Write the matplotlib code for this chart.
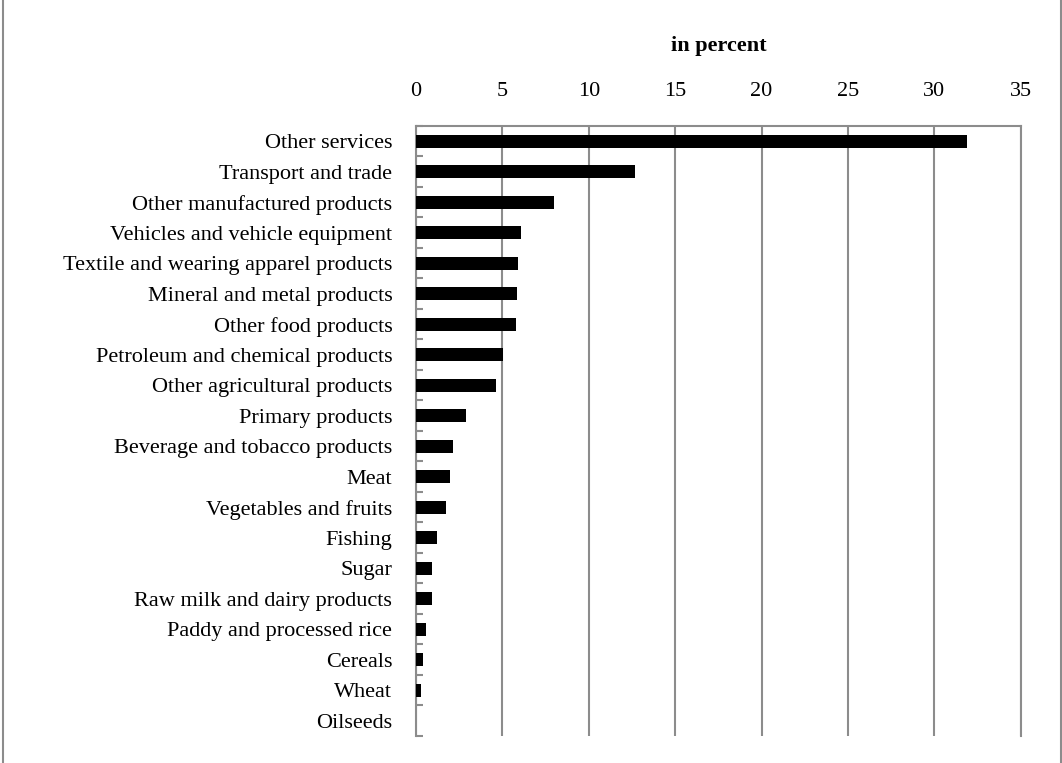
import matplotlib
matplotlib.use("Agg")
import matplotlib.pyplot as plt
from matplotlib.patches import Rectangle
import numpy as np

categories = [
    "Other services",
    "Transport and trade",
    "Other manufactured products",
    "Vehicles and vehicle equipment",
    "Textile and wearing apparel products",
    "Mineral and metal products",
    "Other food products",
    "Petroleum and chemical products",
    "Other agricultural products",
    "Primary products",
    "Beverage and tobacco products",
    "Meat",
    "Vegetables and fruits",
    "Fishing",
    "Sugar",
    "Raw milk and dairy products",
    "Paddy and processed rice",
    "Cereals",
    "Wheat",
    "Oilseeds",
]
shares = [31.9, 12.7, 8.0, 6.1, 5.9, 5.87, 5.77, 5.04, 4.61, 2.91,
          2.16, 1.97, 1.76, 1.23, 0.91, 0.91, 0.58, 0.39, 0.27, 0.02]
x_ticks = [0, 5, 10, 15, 20, 25, 30, 35]

plt.rcParams["font.family"] = ["Liberation Serif", "DejaVu Serif"]
grid_col = "#8c8c8c"

fig = plt.figure(figsize=(10.62, 7.63), dpi=100)
ax = fig.add_axes([0.3917, 0.0354, 0.9611 - 0.3917, 0.8349 - 0.0354])

y = np.arange(len(categories))
ax.barh(y, shares, height=0.42, color="black", zorder=3)

ax.set_xlim(0, 35)
ax.set_ylim(len(categories) - 0.5, -0.5)

ax.set_xticks(x_ticks)
ax.xaxis.tick_top()
ax.tick_params(axis="x", length=0, pad=18, labelsize=16)
ax.grid(axis="x", color=grid_col, linewidth=1.5, zorder=1)

ax.set_yticks(y)
ax.set_yticklabels(categories)
ax.set_yticks(np.arange(-0.5, len(categories)), minor=True)
ax.tick_params(axis="y", which="major", length=0, pad=17, labelsize=16)
ax.tick_params(axis="y", which="minor", direction="in", length=5,
               width=1.5, color=grid_col)

for side in ("top", "left", "right"):
    ax.spines[side].set_color(grid_col)
    ax.spines[side].set_linewidth(1.5)
ax.spines["bottom"].set_visible(False)

ax.set_title("in percent", fontsize=16, fontweight="bold", pad=54)

# outer frame around the chart area
fig.patches.append(Rectangle((3 / 1062, -0.01), (1061 - 3) / 1062, 1.02,
                             transform=fig.transFigure, fill=False,
                             edgecolor="#8c8c8c", linewidth=1.5))

fig.savefig("out.png", dpi=100)
